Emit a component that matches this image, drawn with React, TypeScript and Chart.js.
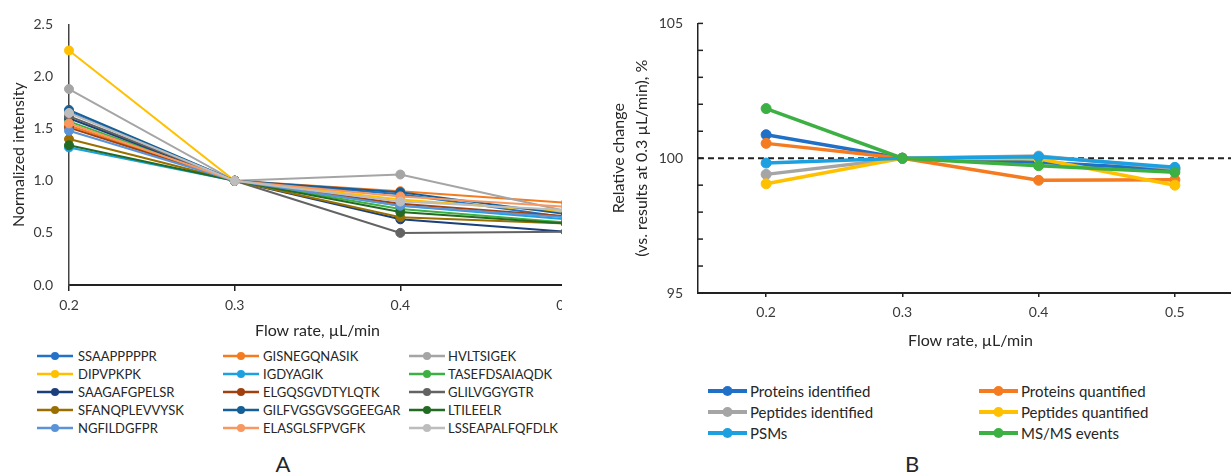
import React, { useEffect, useRef } from "react";
import { Chart, registerables } from "chart.js";

Chart.register(...registerables);

const FONT = "Lato, 'Open Sans', sans-serif";
const TEXT = "#262626";
const TICK_TEXT = "#3a3a3a";

// ---------- Panel A: normalized intensity of peptides ----------
const flowRatesA = [0.2, 0.3, 0.4, 0.5];
const xTicksA = [0.2, 0.3, 0.4, 0.5];

const SSAAPPPPPR = [1.66, 1.0, 0.87, 0.65];
const GISNEGQNASIK = [1.53, 1.0, 0.9, 0.79];
const HVLTSIGEK = [1.88, 1.0, 1.06, 0.71];
const DIPVPKPK = [2.25, 1.0, 0.82, 0.7];
const IGDYAGIK = [1.32, 1.0, 0.76, 0.63];
const TASEFDSAIAQDK = [1.57, 1.0, 0.73, 0.6];
const SAAGAFGPELSR = [1.6, 1.0, 0.63, 0.51];
const ELGQSGVDTYLQTK = [1.51, 1.0, 0.78, 0.66];
const GLILVGGYGTR = [1.62, 1.0, 0.5, 0.51];
const SFANQPLEVVYSK = [1.4, 1.0, 0.65, 0.59];
const GILFVGSGVSGGEEGAR = [1.68, 1.0, 0.89, 0.68];
const LTILEELR = [1.34, 1.0, 0.7, 0.59];
const NGFILDGFPR = [1.48, 1.0, 0.76, 0.65];
const ELASGLSFPVGFK = [1.55, 1.0, 0.85, 0.75];
const LSSEAPALFQFDLK = [1.65, 1.0, 0.8, 0.72];

const peptideNames = [
  "SSAAPPPPPR", "GISNEGQNASIK", "HVLTSIGEK",
  "DIPVPKPK", "IGDYAGIK", "TASEFDSAIAQDK",
  "SAAGAFGPELSR", "ELGQSGVDTYLQTK", "GLILVGGYGTR",
  "SFANQPLEVVYSK", "GILFVGSGVSGGEEGAR", "LTILEELR",
  "NGFILDGFPR", "ELASGLSFPVGFK", "LSSEAPALFQFDLK",
];
const peptideSeries = [
  SSAAPPPPPR, GISNEGQNASIK, HVLTSIGEK,
  DIPVPKPK, IGDYAGIK, TASEFDSAIAQDK,
  SAAGAFGPELSR, ELGQSGVDTYLQTK, GLILVGGYGTR,
  SFANQPLEVVYSK, GILFVGSGVSGGEEGAR, LTILEELR,
  NGFILDGFPR, ELASGLSFPVGFK, LSSEAPALFQFDLK,
];
const peptideColors = [
  "#2472c8", "#f47b20", "#a5a5a5",
  "#ffc000", "#1ca0e0", "#3cb043",
  "#1a3f7a", "#a0400e", "#636363",
  "#9a6f00", "#155f97", "#236b23",
  "#5b93d8", "#f89860", "#bdbdbd",
];

// ---------- Panel B: relative change ----------
const flowRatesB = [0.2, 0.3, 0.4, 0.5];
const xTicksB = [0.2, 0.3, 0.4, 0.5];

const proteinsIdentified = [100.87, 100.0, 99.85, 99.58];
const proteinsQuantified = [100.55, 100.0, 99.18, 99.2];
const peptidesIdentified = [99.4, 100.0, 100.08, 99.62];
const peptidesQuantified = [99.05, 100.0, 99.98, 99.0];
const psms = [99.82, 100.0, 100.05, 99.66];
const msmsEvents = [101.84, 100.0, 99.72, 99.48];

const metricNames = [
  "Proteins identified", "Proteins quantified",
  "Peptides identified", "Peptides quantified",
  "PSMs", "MS/MS events",
];
const metricSeries = [
  proteinsIdentified, proteinsQuantified,
  peptidesIdentified, peptidesQuantified,
  psms, msmsEvents,
];
const metricColors = ["#2070c8", "#f47b20", "#a5a5a5", "#ffc000", "#1ca0e0", "#3cb043"];

const referenceX = [0.15, 0.55];
const referenceLevel = 100;

const innerTicks = {
  id: "innerTicks",
  beforeDatasetsDraw(chart: any) {
    const ys = chart.scales.y;
    const ctx = chart.ctx;
    const left = chart.chartArea.left;
    ctx.save();
    ctx.strokeStyle = "#222";
    ctx.lineWidth = 1.5;
    ys.ticks.forEach((t: any) => {
      const py = ys.getPixelForValue(t.value);
      ctx.beginPath();
      ctx.moveTo(left, py);
      ctx.lineTo(left + 5, py);
      ctx.stroke();
    });
    ctx.restore();
  },
};

function Swatch({ color, width, lineW, r }: { color: string; width: number; lineW: number; r: number }) {
  return (
    <svg width={width} height={12} style={{ display: "block", flex: "none" }}>
      <line x1={0} y1={6} x2={width} y2={6} stroke={color} strokeWidth={lineW} />
      <circle cx={width / 2} cy={6} r={r} fill={color} />
    </svg>
  );
}

export default function App() {
  const refA = useRef<HTMLCanvasElement>(null);
  const refB = useRef<HTMLCanvasElement>(null);

  useEffect(() => {
    const tickFont = { family: FONT, size: 14 };
    const titleFont = { family: FONT, size: 16 };

    const chartA = new Chart(refA.current!, {
      type: "line",
      data: {
        datasets: peptideNames.map((name, i) => ({
          label: name,
          data: flowRatesA.map((x, j) => ({ x, y: peptideSeries[i][j] })),
          borderColor: peptideColors[i],
          backgroundColor: peptideColors[i],
          pointBackgroundColor: peptideColors[i],
          pointBorderColor: peptideColors[i],
          borderWidth: 2,
          pointRadius: 4.5,
          pointBorderWidth: 1,
          tension: 0,
          clip: false as any,
          order: peptideNames.length - i,
        })),
      },
      options: {
        animation: false,
        responsive: false,
        events: [],
        layout: { padding: { top: 17, right: 34, left: 0, bottom: 0 } },
        plugins: { legend: { display: false }, tooltip: { enabled: false } },
        scales: {
          x: {
            type: "linear",
            min: 0.2,
            max: 0.5,
            afterBuildTicks: (s: any) => {
              s.ticks = xTicksA.map((v) => ({ value: v }));
            },
            afterFit: (s: any) => {
              s.height = 60;
            },
            grid: { drawOnChartArea: false, drawTicks: true, tickLength: 6, color: "#222", lineWidth: 1.5 },
            border: { display: true, color: "#222", width: 2 },
            ticks: {
              callback: (v: any) => Number(v).toFixed(1),
              font: tickFont,
              color: TICK_TEXT,
              padding: 6,
              maxRotation: 0,
              autoSkip: false,
            },
            title: {
              display: true,
              text: "Flow rate, µL/min",
              font: titleFont,
              color: TEXT,
              padding: { top: 0, bottom: 5 },
            },
          },
          y: {
            min: 0,
            max: 2.5,
            afterFit: (s: any) => {
              s.width = 69;
            },
            grid: { drawOnChartArea: false, drawTicks: false },
            border: { display: true, color: "#444", width: 1.5 },
            ticks: {
              stepSize: 0.5,
              callback: (v: any) => Number(v).toFixed(1),
              font: tickFont,
              color: TICK_TEXT,
              padding: 16,
            },
            title: {
              display: true,
              text: "Normalized intensity",
              font: titleFont,
              color: TEXT,
              padding: { top: 9, bottom: 0 },
            },
          },
        },
      } as any,
    });

    const chartB = new Chart(refB.current!, {
      type: "line",
      data: {
        datasets: [
          {
            label: "reference",
            data: referenceX.map((x) => ({ x, y: referenceLevel })),
            borderColor: "#222",
            borderWidth: 2,
            borderDash: [6, 4],
            pointRadius: 0,
            tension: 0,
            order: 100,
          } as any,
          ...metricNames.map((name, i) => ({
            label: name,
            data: flowRatesB.map((x, j) => ({ x, y: metricSeries[i][j] })),
            borderColor: metricColors[i],
            backgroundColor: metricColors[i],
            pointBackgroundColor: metricColors[i],
            pointBorderColor: metricColors[i],
            borderWidth: 3.5,
            pointRadius: 5,
            pointBorderWidth: 1,
            tension: 0,
            clip: false as any,
            order: metricNames.length - i,
          })),
        ],
      },
      plugins: [innerTicks],
      options: {
        animation: false,
        responsive: false,
        events: [],
        layout: { padding: { top: 17, right: 17, left: 0, bottom: 0 } },
        plugins: { legend: { display: false }, tooltip: { enabled: false } },
        scales: {
          x: {
            type: "linear",
            min: 0.15,
            max: 0.55,
            afterBuildTicks: (s: any) => {
              s.ticks = xTicksB.map((v) => ({ value: v }));
            },
            afterFit: (s: any) => {
              s.height = 62;
            },
            grid: { drawOnChartArea: false, drawTicks: true, tickLength: 4, color: "#222", lineWidth: 1.5 },
            border: { display: true, color: "#222", width: 2 },
            ticks: {
              callback: (v: any) => Number(v).toFixed(1),
              font: tickFont,
              color: TICK_TEXT,
              padding: 7,
              maxRotation: 0,
              autoSkip: false,
            },
            title: {
              display: true,
              text: "Flow rate, µL/min",
              font: titleFont,
              color: TEXT,
              padding: { top: 0, bottom: 5 },
            },
          },
          y: {
            min: 95,
            max: 105,
            afterFit: (s: any) => {
              s.width = 98;
            },
            grid: { drawOnChartArea: false, drawTicks: false },
            border: { display: true, color: "#222", width: 1.5 },
            ticks: {
              stepSize: 1,
              autoSkip: false,
              callback: (v: any) => (Number(v) % 5 === 0 ? String(v) : ""),
              font: tickFont,
              color: TICK_TEXT,
              padding: 15,
            },
            title: {
              display: true,
              text: ["Relative change", "(vs. results at 0.3 µL/min), %"],
              font: { family: FONT, size: 16, lineHeight: 1.4 },
              color: TEXT,
              padding: { top: 8, bottom: 0 },
            },
          },
        },
      } as any,
    });

    return () => {
      chartA.destroy();
      chartB.destroy();
    };
  }, []);

  const leftColText = [78, 263, 448];
  const leftColLine = [37, 223, 409];
  const leftRows = [356, 374, 392, 410, 428];
  const rightColLine = [708, 979];
  const rightColText = [750, 1021];
  const rightRows = [391, 412, 433];

  return (
    <div
      style={{
        position: "fixed",
        left: 0,
        top: 0,
        width: 1231,
        height: 476,
        overflow: "hidden",
        background: "#fff",
        fontFamily: FONT,
        color: TEXT,
      }}
    >
      <div style={{ position: "absolute", left: 0, top: 0, width: 562, height: 345, overflow: "hidden" }}>
        <canvas ref={refA} width={600} height={345} style={{ width: 600, height: 345, display: "block" }} />
      </div>
      <div style={{ position: "absolute", left: 600, top: 0, width: 631, height: 355, overflow: "hidden" }}>
        <canvas ref={refB} width={660} height={355} style={{ width: 660, height: 355, display: "block" }} />
      </div>

      {peptideNames.map((name, i) => {
        const col = i % 3;
        const row = Math.floor(i / 3);
        return (
          <div
            key={name}
            style={{
              position: "absolute",
              left: leftColLine[col],
              top: leftRows[row] - 9,
              height: 18,
              display: "flex",
              alignItems: "center",
              whiteSpace: "nowrap",
              fontSize: 13,
            }}
          >
            <Swatch color={peptideColors[i]} width={36} lineW={2.5} r={4} />
            <span style={{ marginLeft: leftColText[col] - leftColLine[col] - 36 }}>{name}</span>
          </div>
        );
      })}

      {metricNames.map((name, i) => {
        const col = i % 2;
        const row = Math.floor(i / 2);
        return (
          <div
            key={name}
            style={{
              position: "absolute",
              left: rightColLine[col],
              top: rightRows[row] - 10,
              height: 20,
              display: "flex",
              alignItems: "center",
              whiteSpace: "nowrap",
              fontSize: 15,
            }}
          >
            <Swatch color={metricColors[i]} width={39} lineW={4} r={5} />
            <span style={{ marginLeft: rightColText[col] - rightColLine[col] - 39 }}>{name}</span>
          </div>
        );
      })}

      <div style={{ position: "absolute", left: 283, top: 463, transform: "translate(-50%, -50%)", fontSize: 22 }}>A</div>
      <div style={{ position: "absolute", left: 912, top: 463, transform: "translate(-50%, -50%)", fontSize: 22 }}>B</div>
    </div>
  );
}
